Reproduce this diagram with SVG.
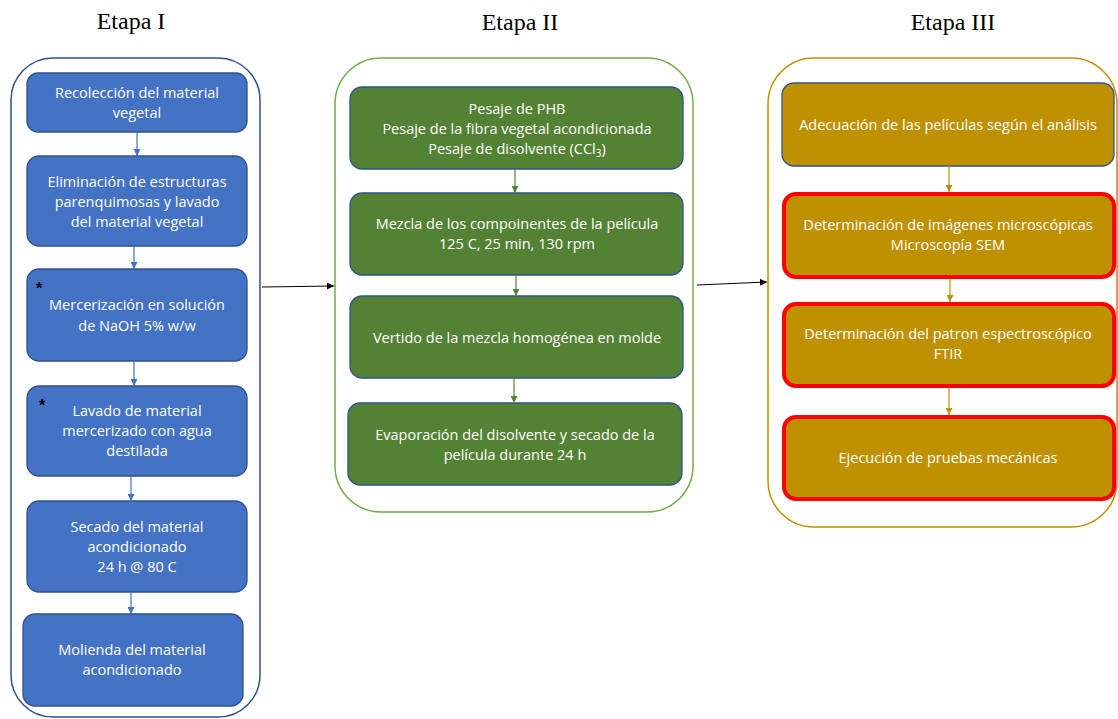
<svg xmlns="http://www.w3.org/2000/svg" width="1118" height="719" viewBox="0 0 1118 719">
  <style>
    .title { font-family: "Liberation Serif", "Times New Roman", serif; font-size: 24px; fill: #000; text-anchor: middle; }
    .lbl { font-family: "Open Sans", "Noto Sans", "Liberation Sans", sans-serif; font-size: 14.5px; fill: #fff; text-anchor: middle; }
    .star { font-family: "Liberation Sans", Arial, sans-serif; font-size: 16px; font-weight: bold; fill: #000; text-anchor: middle; }
    .frame { fill: #fff; stroke-width: 1.5; }
    .blue { fill: #4472C4; stroke: #2F528F; stroke-width: 1.3; }
    .green { fill: #548235; stroke: #2F528F; stroke-width: 1.3; }
    .gold { fill: #BF9000; stroke: #2F528F; stroke-width: 1.3; }
    .gold-red { fill: #BF9000; stroke: #FF0000; stroke-width: 4; }
    .c-blue { stroke: #4472C4; stroke-width: 1.2; fill: none; marker-end: url(#ah-blue); }
    .c-green { stroke: #548235; stroke-width: 1.2; fill: none; marker-end: url(#ah-green); }
    .c-gold { stroke: #BF9000; stroke-width: 1.2; fill: none; marker-end: url(#ah-gold); }
    .c-black { stroke: #000; stroke-width: 1; fill: none; marker-end: url(#ah-black); }
  </style>
  <defs>
    <marker id="ah-blue" viewBox="0 0 10 10" refX="10" refY="5" markerWidth="7" markerHeight="7" markerUnits="userSpaceOnUse" orient="auto">
      <path d="M0,0 L10,5 L0,10 Z" fill="#4472C4"/>
    </marker>
    <marker id="ah-green" viewBox="0 0 10 10" refX="10" refY="5" markerWidth="7" markerHeight="7" markerUnits="userSpaceOnUse" orient="auto">
      <path d="M0,0 L10,5 L0,10 Z" fill="#548235"/>
    </marker>
    <marker id="ah-gold" viewBox="0 0 10 10" refX="10" refY="5" markerWidth="7" markerHeight="7" markerUnits="userSpaceOnUse" orient="auto">
      <path d="M0,0 L10,5 L0,10 Z" fill="#BF9000"/>
    </marker>
    <marker id="ah-black" viewBox="0 0 10 10" refX="10" refY="5" markerWidth="7" markerHeight="7" markerUnits="userSpaceOnUse" orient="auto">
      <path d="M0,0 L10,5 L0,10 Z" fill="#000"/>
    </marker>
  </defs>

  <rect width="1118" height="719" fill="#fff"/>

  <!-- Stage titles -->
  <text class="title" x="131" y="29">Etapa I</text>
  <text class="title" x="520" y="30">Etapa II</text>
  <text class="title" x="953" y="30">Etapa III</text>

  <!-- Stage frames -->
  <g id="stage1">
    <rect class="frame" x="11" y="58" width="249" height="659" rx="42" ry="42" stroke="#2F528F"/>
  </g>
  <g id="stage2">
    <rect class="frame" x="335" y="58" width="358" height="454" rx="46" ry="46" stroke="#70AD47"/>
  </g>
  <g id="stage3">
    <rect class="frame" x="768" y="58" width="349" height="469" rx="46" ry="46" stroke="#BF9000"/>
  </g>

  <!-- Stage I steps -->
  <g id="s1-recoleccion">
    <rect class="blue" x="27" y="73" width="220" height="59" rx="11"/>
    <text class="lbl" x="137" y="98">Recolección del material</text>
    <text class="lbl" x="137" y="118">vegetal</text>
  </g>
  <g id="s1-eliminacion">
    <rect class="blue" x="27" y="156" width="220" height="90" rx="12"/>
    <text class="lbl" x="137" y="187">Eliminación de estructuras</text>
    <text class="lbl" x="137" y="207">parenquimosas y lavado</text>
    <text class="lbl" x="137" y="227">del material vegetal</text>
  </g>
  <g id="s1-mercerizacion">
    <rect class="blue" x="27" y="269" width="220" height="92" rx="12"/>
    <text class="star" x="39" y="294">*</text>
    <text class="lbl" x="137" y="310">Mercerización en solución</text>
    <text class="lbl" x="137" y="331">de NaOH 5% w/w</text>
  </g>
  <g id="s1-lavado">
    <rect class="blue" x="27" y="386" width="220" height="90" rx="12"/>
    <text class="star" x="42" y="411">*</text>
    <text class="lbl" x="137" y="416">Lavado de material</text>
    <text class="lbl" x="137" y="436">mercerizado con agua</text>
    <text class="lbl" x="137" y="456">destilada</text>
  </g>
  <g id="s1-secado">
    <rect class="blue" x="27" y="501" width="220" height="91" rx="12"/>
    <text class="lbl" x="137" y="532">Secado del material</text>
    <text class="lbl" x="137" y="552">acondicionado</text>
    <text class="lbl" x="137" y="572">24 h @ 80 C</text>
  </g>
  <g id="s1-molienda">
    <rect class="blue" x="23" y="614" width="220" height="92" rx="12"/>
    <text class="lbl" x="132" y="655">Molienda del material</text>
    <text class="lbl" x="132" y="675">acondicionado</text>
  </g>

  <!-- Stage II steps -->
  <g id="s2-pesaje">
    <rect class="green" x="350" y="87" width="333" height="82" rx="12"/>
    <text class="lbl" x="517" y="114">Pesaje de PHB</text>
    <text class="lbl" x="517" y="134">Pesaje de la fibra vegetal acondicionada</text>
    <text class="lbl" x="517" y="154">Pesaje de disolvente (CCl<tspan font-size="10" dy="3">3</tspan><tspan dy="-3">)</tspan></text>
  </g>
  <g id="s2-mezcla">
    <rect class="green" x="350" y="193" width="333" height="82" rx="12"/>
    <text class="lbl" x="517" y="229">Mezcla de los compoinentes de la película</text>
    <text class="lbl" x="517" y="249">125 C, 25 min, 130 rpm</text>
  </g>
  <g id="s2-vertido">
    <rect class="green" x="350" y="296" width="333" height="82" rx="12"/>
    <text class="lbl" x="517" y="343">Vertido de la mezcla homogénea en molde</text>
  </g>
  <g id="s2-evaporacion">
    <rect class="green" x="348" y="403" width="334" height="82" rx="12"/>
    <text class="lbl" x="515" y="440">Evaporación del disolvente y secado de la</text>
    <text class="lbl" x="515" y="460">película durante 24 h</text>
  </g>

  <!-- Stage III steps -->
  <g id="s3-adecuacion">
    <rect class="gold" x="782" y="83" width="332" height="83" rx="12"/>
    <text class="lbl" x="948" y="130">Adecuación de las películas según el análisis</text>
  </g>
  <g id="s3-sem">
    <rect class="gold-red" x="784" y="194" width="330" height="83" rx="12"/>
    <text class="lbl" x="948" y="230">Determinación de imágenes microscópicas</text>
    <text class="lbl" x="948" y="250">Microscopía SEM</text>
  </g>
  <g id="s3-ftir">
    <rect class="gold-red" x="784" y="304" width="330" height="82" rx="12"/>
    <text class="lbl" x="948" y="339">Determinación del patron espectroscópico</text>
    <text class="lbl" x="948" y="359">FTIR</text>
  </g>
  <g id="s3-mecanicas">
    <rect class="gold-red" x="784" y="417" width="330" height="82" rx="12"/>
    <text class="lbl" x="948" y="463">Ejecución de pruebas mecánicas</text>
  </g>

  <!-- Connectors -->
  <g id="connectors">
    <line class="c-blue" x1="137" y1="132" x2="137" y2="156"/>
    <line class="c-blue" x1="134" y1="246" x2="134" y2="269"/>
    <line class="c-blue" x1="134" y1="361" x2="134" y2="386"/>
    <line class="c-blue" x1="131" y1="476" x2="131" y2="501"/>
    <line class="c-blue" x1="131" y1="592" x2="131" y2="614"/>

    <line class="c-green" x1="515" y1="169" x2="515" y2="193"/>
    <line class="c-green" x1="516" y1="275" x2="516" y2="296"/>
    <line class="c-green" x1="514" y1="378" x2="514" y2="403"/>

    <line class="c-gold" x1="949" y1="166" x2="949" y2="192"/>
    <line class="c-gold" x1="950" y1="279" x2="950" y2="302"/>
    <line class="c-gold" x1="949" y1="388" x2="949" y2="415"/>

    <line class="c-black" x1="262" y1="287" x2="334" y2="286"/>
    <line class="c-black" x1="697" y1="285" x2="767" y2="282"/>
  </g>
</svg>
